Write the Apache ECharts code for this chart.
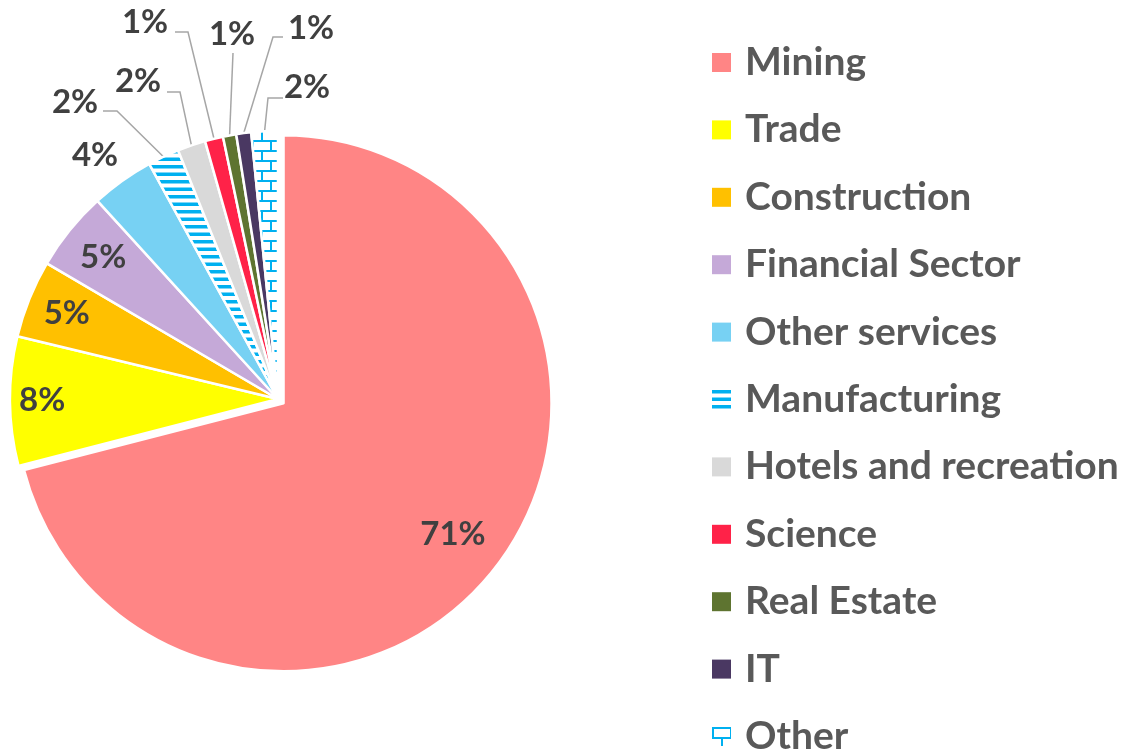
<!DOCTYPE html>
<html>
<head>
<meta charset="utf-8">
<script src="https://cdn.jsdelivr.net/npm/echarts@6/dist/echarts.min.js"></script>
<style>
  html, body { margin: 0; padding: 0; background: #fff; }
  #chart { width: 1128px; height: 751px; }
</style>
</head>
<body>
<div id="chart"></div>
<script>
// sectors, clockwise from 12 o'clock
const categories = ['Mining', 'Trade', 'Construction', 'Financial Sector', 'Other services',
    'Manufacturing', 'Hotels and recreation', 'Science', 'Real Estate', 'IT', 'Other'];
const shares = [71.2, 7.8, 4.7, 4.8, 3.8, 1.9, 1.7, 1.1, 0.8, 0.9, 1.6];
const colors = ['#FF8585', '#FFFF00', '#FFC000', '#C5A9D8', '#77D1F3',
    'stripes', '#D9D9D9', '#FF2248', '#5E7430', '#4A3862', 'bricks'];

const CX = 278, CY = 399, R = 268, EXPLODE = 7;
const blue = '#00B0F0';
const clear = 'rgba(0,0,0,0)';

// horizontal stripes (Manufacturing)
function stripeTile() {
    const c = document.createElement('canvas');
    c.width = 8; c.height = 15;
    const g = c.getContext('2d');
    g.fillStyle = '#fff'; g.fillRect(0, 0, 8, 15);
    g.fillStyle = blue;
    g.fillRect(0, 0, 8, 3.5);
    g.fillRect(0, 7.5, 8, 3.5);
    return c;
}
// brick pattern (Other)
function brickTile() {
    const c = document.createElement('canvas');
    c.width = 18; c.height = 20;
    const g = c.getContext('2d');
    g.fillStyle = '#fff'; g.fillRect(0, 0, 18, 20);
    g.fillStyle = blue;
    g.fillRect(0, 0, 18, 2);
    g.fillRect(0, 10, 18, 2);
    g.fillRect(0, 0, 2, 10);
    g.fillRect(9, 10, 2, 10);
    return c;
}
function fillFor(c) {
    if (c === 'stripes') return { image: stripeTile(), repeat: 'repeat' };
    if (c === 'bricks') return { image: brickTile(), repeat: 'repeat' };
    return c;
}

// label placement: inside labels at a fraction of the radius,
// outside labels at a text spot with an elbow for the leader line
const labelSpots = [
    { k: 0.80 },
    { k: 0.88 },
    { k: 0.85 },
    { k: 0.84 },
    { text: [95, 155] },
    { text: [75, 102], elbow: [117, 111], end: [103, 111] },
    { text: [138, 81], elbow: [180, 92], end: [167, 92] },
    { text: [145, 22], elbow: [188, 32], end: [175, 32] },
    { text: [232, 34], elbow: [233, 53], end: [233, 53] },
    { text: [311, 28], elbow: [273, 37], end: [283, 37] },
    { text: [307, 87], elbow: [268, 98], end: [283, 98] }
];

const total = shares.reduce((a, b) => a + b, 0);
const midAngles = [];
let acc = 0;
shares.forEach(v => {
    midAngles.push((acc + v / 2) / total * 2 * Math.PI);
    acc += v;
});

// Mining is pulled out of the pie along its middle angle
const mCX = CX + EXPLODE * Math.sin(midAngles[0]);
const mCY = CY - EXPLODE * Math.cos(midAngles[0]);

function makeLayout(cx, cy, onlyFirst) {
    return function (p) {
        const i = p.dataIndex;
        if (onlyFirst && i !== 0) return {};
        const s = labelSpots[i];
        const a = midAngles[i];
        const dx = Math.sin(a), dy = -Math.cos(a);
        if (s.k) {
            return {
                x: cx + s.k * R * dx, y: cy + s.k * R * dy,
                align: 'center', verticalAlign: 'middle'
            };
        }
        const out = {
            x: s.text[0], y: s.text[1],
            align: 'center', verticalAlign: 'middle'
        };
        if (s.elbow) {
            out.labelLinePoints = [[cx + R * dx, cy + R * dy], s.elbow, s.end];
        }
        return out;
    };
}

const labelStyle = {
    show: true,
    position: 'outside',
    fontFamily: 'Lato',
    fontWeight: 'bold',
    fontSize: 33,
    color: '#404040',
    formatter: p => Math.round(p.value) + '%'
};
const lineStyle = { color: '#A6A6A6', width: 1.5 };

const restData = categories.map((name, i) => {
    if (i === 0) {
        return {
            name: name, value: shares[i],
            itemStyle: { color: clear, borderWidth: 0 },
            label: { show: false }, labelLine: { show: false }
        };
    }
    return {
        name: name,
        value: shares[i],
        itemStyle: { color: fillFor(colors[i]) },
        labelLine: { show: !!labelSpots[i].elbow }
    };
});

const miningData = [
    { name: categories[0], value: shares[0], itemStyle: { color: colors[0] } },
    {
        name: '', value: total - shares[0],
        itemStyle: { color: clear, borderWidth: 0 },
        label: { show: false }, labelLine: { show: false }
    }
];

const chart = echarts.init(document.getElementById('chart'));
chart.setOption({
    animation: false,
    backgroundColor: '#fff',
    legend: {
        orient: 'vertical',
        left: 712,
        top: 43,
        height: 720,
        padding: 0,
        itemWidth: 19,
        itemHeight: 19,
        itemGap: 28.4,
        icon: 'rect',
        selectedMode: false,
        itemStyle: { borderWidth: 0 },
        textStyle: {
            fontFamily: 'Lato',
            fontWeight: 'bold',
            fontSize: 39,
            color: '#595959',
            padding: [0, 0, 0, 9]
        },
        data: categories
    },
    series: [{
        type: 'pie',
        silent: true,
        center: [mCX, mCY],
        radius: R,
        startAngle: 90,
        clockwise: true,
        avoidLabelOverlap: false,
        itemStyle: { borderColor: '#fff', borderWidth: 2.5 },
        label: labelStyle,
        labelLine: { show: false },
        labelLayout: makeLayout(mCX, mCY, true),
        data: miningData
    }, {
        type: 'pie',
        silent: true,
        center: [CX, CY],
        radius: R,
        startAngle: 90,
        clockwise: true,
        avoidLabelOverlap: false,
        itemStyle: { borderColor: '#fff', borderWidth: 2.5 },
        label: labelStyle,
        labelLine: { show: true, lineStyle: lineStyle },
        labelLayout: makeLayout(CX, CY, false),
        data: restData
    }]
});
</script>
</body>
</html>
